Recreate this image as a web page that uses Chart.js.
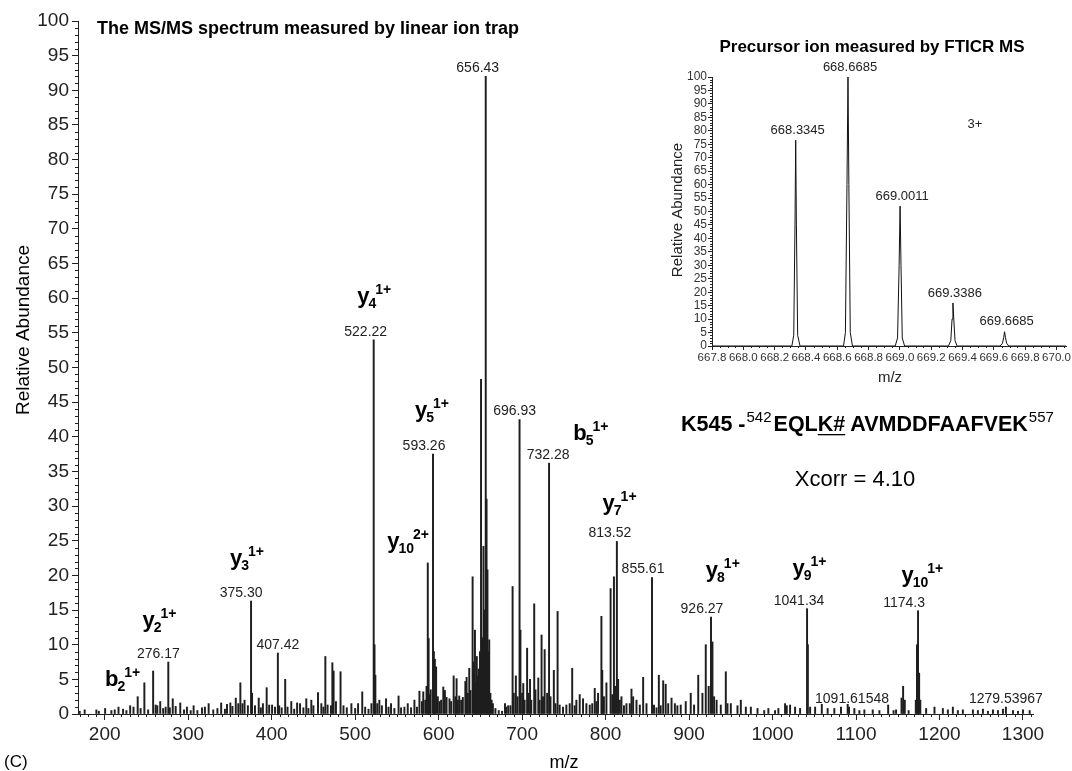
<!DOCTYPE html>
<html>
<head>
<meta charset="utf-8">
<script src="https://cdn.jsdelivr.net/npm/chart.js@4.4.1/dist/chart.umd.min.js"></script>
<style>
  html, body { margin: 0; padding: 0; background: #fff; }
  #wrap { position: relative; width: 1072px; height: 771px; }
  #main { position: absolute; left: 0; top: 0; }
  #inset { position: absolute; left: 660px; top: 30px; }
</style>
</head>
<body>
<div id="wrap">
  <canvas id="main" width="1072" height="771"></canvas>
  <canvas id="inset" width="412" height="362"></canvas>
</div>
<script>
/* ── MS/MS spectrum (linear ion trap) ── */

const FONT = "'Liberation Sans', Arial, sans-serif";

// stick spectrum: m/z and relative abundance
const msMz = [
  170, 176, 190, 193, 200.5, 208, 212, 216.5, 222, 226, 230.5, 234.5, 239.5, 243, 247.5, 252, 258, 261, 263, 266.5,
  270, 273, 276.17, 278, 281.5, 285, 290.5, 295, 298.5, 303, 306.5, 311, 316.5, 320, 324.5, 330, 335, 339.5, 344, 346.5,
  350.5, 353, 357, 360, 362.5, 365, 367.5, 371.5, 375.3, 376.5, 380, 384.5, 387, 389.5, 394, 397, 400.5, 404, 407.42, 409,
  412, 416.2, 419, 423.5, 427, 430.5, 434, 438, 441.5, 444, 447.5, 450, 455.5, 459.5, 462, 464.3, 467, 471, 472.7, 474.2,
  477, 482.5, 486, 490, 495.5, 500, 503.5, 508.5, 512, 516, 519.5, 522.22, 523.2, 524.2, 526.5, 529, 532, 537, 540, 543,
  547, 552, 555, 559, 563, 567, 571, 574, 577, 580, 581.6, 584, 585.5, 587, 588, 589.3, 590.5, 593.26, 594.3, 595.5,
  597, 599, 601, 603, 605.6, 607.5, 609.5, 613, 615, 618, 620, 621.5, 623, 624.7, 627, 629, 632, 633.5, 635, 636.7,
  638.2, 640.7, 642, 643.5, 644.7, 645.7, 647, 648, 649.5, 650.8, 652, 653.7, 655, 656.43, 657.4, 658.5, 659.6, 660.6, 662, 663.5,
  665, 668, 672, 676, 679.5, 681, 683.3, 686, 688.6, 690, 692.5, 694.5, 696.93, 698, 700, 701.4, 703, 706, 707.5, 709.5,
  711, 714.5, 716, 719.4, 721, 723.3, 725, 727, 730, 732.28, 734, 738, 740, 742.5, 745, 749, 753, 757, 760, 763,
  765, 769, 773, 777, 781, 784, 787, 789, 791, 795, 796, 798, 801, 806, 808, 810, 811.5, 813.52, 815, 817,
  819, 822, 825, 829, 831, 833, 837, 841, 845, 849, 855.61, 858, 861, 863.8, 866, 869, 872, 875, 879, 883,
  886, 890, 896, 902, 906, 911, 916, 920, 923.5, 926.27, 928, 930, 933, 938, 944, 946, 950, 958, 962, 968,
  974, 982, 990, 995, 1003, 1007, 1015, 1017, 1021, 1027, 1033, 1041.34, 1042.3, 1045, 1051, 1059, 1066, 1074, 1082, 1090,
  1091.61548, 1098, 1104, 1110, 1120, 1128, 1138.5, 1145, 1148, 1154.5, 1156.4, 1158.4, 1163, 1171.6, 1173, 1174.3, 1175.6, 1177, 1184, 1194,
  1204, 1210, 1216, 1222, 1228, 1240, 1246, 1252, 1258, 1264, 1270, 1276, 1279.53967, 1288, 1294, 1300, 1308
];
const msAbund = [
  0.4, 0.6, 0.6, 0.4, 0.8, 0.5, 0.6, 1.0, 0.7, 0.5, 1.2, 1.0, 2.5, 0.8, 4.5, 0.6, 6.2, 1.3, 1.2, 1.8,
  0.8, 1.0, 7.5, 0.9, 2.2, 1.1, 1.6, 0.6, 1.0, 0.5, 1.2, 0.5, 0.9, 1.0, 1.5, 0.6, 0.8, 1.6, 0.7, 1.4,
  1.6, 1.1, 2.3, 1.5, 4.5, 1.5, 2.0, 1.2, 16.3, 3.0, 1.2, 2.3, 0.9, 1.5, 3.8, 1.3, 1.3, 1.0, 8.8, 1.2,
  0.9, 5.0, 1.0, 1.8, 0.7, 1.6, 1.5, 0.9, 2.2, 0.8, 2.0, 1.2, 3.1, 1.5, 1.0, 8.3, 1.3, 1.2, 7.4, 6.2,
  1.8, 6.1, 1.2, 0.9, 1.5, 0.8, 1.5, 3.2, 1.0, 0.7, 1.5, 54.0, 10.0, 5.6, 1.5, 2.0, 1.2, 2.2, 1.0, 1.5,
  0.8, 2.6, 0.9, 1.0, 1.5, 0.9, 2.0, 1.0, 3.3, 1.8, 3.2, 2.0, 4.0, 21.8, 10.9, 2.8, 3.5, 37.5, 9.0, 7.9,
  6.8, 2.5, 1.8, 2.0, 3.9, 3.4, 2.4, 2.2, 1.8, 5.5, 2.5, 5.1, 2.0, 2.6, 2.0, 2.4, 4.7, 5.3, 3.0, 6.6,
  3.4, 19.8, 7.5, 12.1, 4.5, 8.3, 5.5, 6.5, 9.0, 48.3, 11.0, 24.2, 15.0, 92.0, 31.0, 20.8, 9.0, 10.7, 3.0, 2.0,
  1.5, 0.8, 0.5, 0.4, 1.5, 1.0, 1.2, 1.2, 18.4, 3.0, 5.5, 2.5, 42.5, 12.1, 3.0, 4.4, 2.0, 9.5, 3.0, 5.0,
  2.0, 15.9, 3.5, 5.2, 2.0, 11.4, 2.5, 9.3, 3.0, 36.2, 2.5, 6.3, 1.5, 14.8, 1.3, 1.0, 1.3, 1.5, 6.6, 1.2,
  2.0, 2.8, 2.2, 1.5, 1.3, 1.5, 3.7, 1.8, 3.0, 14.1, 6.3, 2.5, 4.5, 18.1, 2.8, 19.8, 4.0, 24.9, 5.0, 2.0,
  2.5, 1.2, 1.5, 1.5, 3.6, 2.5, 2.0, 1.3, 5.3, 1.5, 19.7, 1.3, 0.9, 5.6, 1.2, 4.8, 4.3, 1.5, 2.3, 1.5,
  1.2, 1.3, 1.8, 3.0, 1.3, 5.6, 3.0, 10.0, 4.0, 14.0, 10.4, 2.5, 2.0, 1.3, 6.1, 1.5, 1.5, 1.2, 2.0, 1.0,
  1.0, 0.8, 0.5, 0.8, 0.5, 0.8, 1.5, 1.2, 1.3, 1.0, 0.8, 15.2, 10.0, 1.0, 1.0, 1.4, 0.8, 0.8, 1.0, 1.4,
  1.0, 0.8, 0.5, 0.6, 0.6, 0.5, 1.3, 0.5, 0.6, 2.3, 4.0, 2.0, 0.5, 2.0, 10.0, 14.9, 5.9, 2.0, 0.8, 1.0,
  0.8, 0.6, 1.0, 0.5, 0.6, 0.6, 0.5, 0.7, 0.4, 0.6, 0.5, 0.7, 1.0, 0.5, 0.4, 0.6, 0.5
];

// axis ticks
const xTickVals = [200, 300, 400, 500, 600, 700, 800, 900, 1000, 1100, 1200, 1300];
const yTickVals = [0, 5, 10, 15, 20, 25, 30, 35, 40, 45, 50, 55, 60, 65, 70, 75, 80, 85, 90, 95, 100];

// m/z labels over peaks
const peakLabelMz = [276.17, 375.3, 407.42, 522.22, 593.26, 656.43, 696.93, 732.28, 813.52, 855.61, 926.27, 1041.34, 1091.61548, 1174.3, 1279.53967];
const peakLabelText = ['276.17', '375.30', '407.42', '522.22', '593.26', '656.43', '696.93', '732.28', '813.52', '855.61', '926.27', '1041.34', '1091.61548', '1174.3', '1279.53967'];
const peakLabelDx = [-10, -10, 0, -8, -9, -8, -5, -1, -7, -9, -9, -8, 3, -14, 0];

// fragment ion annotations (anchor = left edge / baseline of the ion letter)
const ionMain = ['b', 'y', 'y', 'y', 'y', 'y', 'b', 'y', 'y', 'y', 'y'];
const ionSub = ['2', '2', '3', '4', '5', '10', '5', '7', '8', '9', '10'];
const ionSup = ['1+', '1+', '1+', '1+', '1+', '2+', '1+', '1+', '1+', '1+', '1+'];
const ionMz = [200.4, 245.3, 350.1, 502.5, 571.6, 538.4, 761.2, 796.4, 920.1, 1023.9, 1154.5];
const ionAbund = [4.0, 12.5, 21.5, 59.3, 42.9, 23.9, 39.5, 29.4, 19.8, 20.1, 19.1];

/* ── precursor inset (FTICR) ── */
const insetMz = [
  667.80, 668.31, 668.322, 668.330, 668.3345, 668.339, 668.347, 668.362,
  668.64, 668.652, 668.662, 668.6685, 668.674, 668.683, 668.697,
  668.97, 668.985, 668.995, 669.0011, 669.007, 669.015, 669.03,
  669.31, 669.325, 669.333, 669.3386, 669.344, 669.352, 669.365,
  669.64, 669.655, 669.663, 669.6685, 669.674, 669.682, 669.695, 670.06
];
const insetAbund = [
  0, 0, 4, 45, 76.5, 45, 4, 0,
  0, 5, 60, 100, 60, 5, 0,
  0, 3, 30, 52, 30, 3, 0,
  0, 2, 10, 16, 10, 2, 0,
  0, 1, 3.2, 5.3, 3.2, 1, 0, 0
];
const insetXTicks = [667.8, 668.0, 668.2, 668.4, 668.6, 668.8, 669.0, 669.2, 669.4, 669.6, 669.8, 670.0];
const insetLabelMz = [668.3345, 668.6685, 669.0011, 669.3386, 669.6685];
const insetLabelText = ['668.3345', '668.6685', '669.0011', '669.3386', '669.6685'];

function abundAt(mzArr, abArr, mz) {
  const i = mzArr.indexOf(mz);
  return i >= 0 ? abArr[i] : 0;
}

function drawMinorTicks(ctx, xs, ys, area, xFrom, xTo, xStep, xMajor, yStep, yMajor, len) {
  ctx.beginPath();
  const nx = Math.round((xTo - xFrom) / xStep);
  for (let k = 0; k <= nx; k++) {
    const v = xFrom + k * xStep;
    if (Math.abs(v / xMajor - Math.round(v / xMajor)) < 1e-6) continue;
    const px = Math.round(xs.getPixelForValue(v)) + 0.5;
    ctx.moveTo(px, area.bottom); ctx.lineTo(px, area.bottom + len);
  }
  for (let v = yStep; v < 100; v += yStep) {
    if (v % yMajor === 0) continue;
    const py = Math.round(ys.getPixelForValue(v)) + 0.5;
    ctx.moveTo(area.left - len, py); ctx.lineTo(area.left, py);
  }
  ctx.stroke();
}

const mainDecor = {
  id: 'mainDecor',
  afterDraw(chart) {
    const { ctx, chartArea } = chart;
    const xs = chart.scales.x, ys = chart.scales.y;
    ctx.save();
    ctx.strokeStyle = '#222';
    ctx.lineWidth = 1;
    drawMinorTicks(ctx, xs, ys, chartArea, 170, 1310, 10, 100, 1, 5, 3);

    // peak m/z labels
    ctx.fillStyle = '#222';
    ctx.font = `14px ${FONT}`;
    ctx.textAlign = 'center';
    ctx.textBaseline = 'middle';
    peakLabelMz.forEach((mz, i) => {
      const top = ys.getPixelForValue(abundAt(msMz, msAbund, mz));
      ctx.fillText(peakLabelText[i], xs.getPixelForValue(mz) + peakLabelDx[i], top - 8);
    });

    // fragment ion labels
    ctx.fillStyle = '#000';
    ctx.textAlign = 'left';
    ctx.textBaseline = 'alphabetic';
    ionMain.forEach((m, i) => {
      let px = xs.getPixelForValue(ionMz[i]);
      const py = ys.getPixelForValue(ionAbund[i]);
      ctx.font = `bold 22px ${FONT}`;
      ctx.fillText(m, px, py);
      px += ctx.measureText(m).width - 1;
      ctx.font = `bold 14px ${FONT}`;
      ctx.fillText(ionSub[i], px, py + 5);
      px += ctx.measureText(ionSub[i]).width - 1;
      ctx.fillText(ionSup[i], px, py - 9);
    });

    // titles and free text
    ctx.font = `bold 18px ${FONT}`;
    ctx.fillText('The MS/MS spectrum measured by linear ion trap', 97, 34);

    ctx.font = `17px ${FONT}`;
    ctx.fillText('(C)', 4, 767);

    ctx.font = `18px ${FONT}`;
    ctx.textAlign = 'center';
    ctx.fillText('m/z', 564, 768);

    ctx.save();
    ctx.translate(24, 330);
    ctx.rotate(-Math.PI / 2);
    ctx.font = `19px ${FONT}`;
    ctx.textBaseline = 'middle';
    ctx.fillText('Relative Abundance', 0, 0);
    ctx.restore();

    // peptide sequence
    ctx.textAlign = 'left';
    let sx = 681;
    const sy = 431;
    ctx.font = `bold 21.5px ${FONT}`;
    ctx.fillText('K545 -', sx, sy);
    sx += ctx.measureText('K545 -').width + 1;
    ctx.font = `15px ${FONT}`;
    ctx.fillText('542', sx, sy - 9);
    sx += ctx.measureText('542').width + 2;
    ctx.font = `bold 21.5px ${FONT}`;
    ctx.fillText('EQL', sx, sy);
    sx += ctx.measureText('EQL').width;
    const kw = ctx.measureText('K#').width;
    ctx.fillText('K#', sx, sy);
    ctx.fillRect(sx, sy + 3, kw, 1.3);
    sx += kw + ctx.measureText(' ').width - 1;
    ctx.fillText('AVMDDFAAFVEK', sx, sy);
    sx += ctx.measureText('AVMDDFAAFVEK').width + 1;
    ctx.font = `15px ${FONT}`;
    ctx.fillText('557', sx, sy - 9);

    ctx.font = `22px ${FONT}`;
    ctx.textAlign = 'center';
    ctx.fillText('Xcorr = 4.10', 855, 486);
    ctx.restore();
  }
};

new Chart(document.getElementById('main'), {
  type: 'bar',
  data: {
    datasets: [{
      data: msMz.map((mz, i) => ({ x: mz, y: msAbund[i] })),
      backgroundColor: '#1e1e1e',
      barThickness: 1.3,
      grouped: false,
    }],
  },
  options: {
    responsive: false,
    animation: false,
    layout: { padding: { top: 21, right: 39, left: 0, bottom: 0 } },
    plugins: { legend: { display: false }, tooltip: { enabled: false } },
    scales: {
      x: {
        type: 'linear', min: 168, max: 1312, offset: false,
        afterBuildTicks: s => { s.ticks = xTickVals.map(v => ({ value: v })); },
        afterFit: s => { s.height = 57; },
        grid: { drawOnChartArea: false, tickLength: 6, tickColor: '#222', offset: false },
        border: { color: '#222', width: 1 },
        ticks: { font: { family: FONT, size: 19 }, color: '#222', padding: 3, maxRotation: 0, autoSkip: false,
                 callback: v => String(v) },
      },
      y: {
        min: 0, max: 100,
        afterBuildTicks: s => { s.ticks = yTickVals.map(v => ({ value: v })); },
        afterFit: s => { s.width = 78; },
        grid: { drawOnChartArea: false, tickLength: 6, tickColor: '#222' },
        border: { color: '#222', width: 1 },
        ticks: { font: { family: FONT, size: 19 }, color: '#222', padding: 3, autoSkip: false },
      },
    },
  },
  plugins: [mainDecor],
});

const insetDecor = {
  id: 'insetDecor',
  afterDraw(chart) {
    const { ctx, chartArea } = chart;
    const xs = chart.scales.x, ys = chart.scales.y;
    ctx.save();
    ctx.strokeStyle = '#222';
    ctx.lineWidth = 1;
    drawMinorTicks(ctx, xs, ys, chartArea, 667.8, 670.05, 0.05, 0.2, 1, 5, 2);

    ctx.fillStyle = '#222';
    ctx.font = `13px ${FONT}`;
    ctx.textAlign = 'center';
    ctx.textBaseline = 'middle';
    insetLabelMz.forEach((mz, i) => {
      const top = ys.getPixelForValue(abundAt(insetMz, insetAbund, mz));
      ctx.fillText(insetLabelText[i], xs.getPixelForValue(mz) + 2, top - 10);
    });
    ctx.fillText('3+', 315, 94);

    ctx.fillStyle = '#000';
    ctx.font = `bold 17px ${FONT}`;
    ctx.fillText('Precursor ion measured by FTICR MS', 212, 17);

    ctx.fillStyle = '#222';
    ctx.font = `15px ${FONT}`;
    ctx.fillText('m/z', 230, 348);

    ctx.translate(18, 180);
    ctx.rotate(-Math.PI / 2);
    ctx.fillText('Relative Abundance', 0, 0);
    ctx.restore();
  }
};

new Chart(document.getElementById('inset'), {
  type: 'line',
  data: {
    datasets: [{
      data: insetMz.map((mz, i) => ({ x: mz, y: insetAbund[i] })),
      borderColor: '#111',
      borderWidth: 1,
      pointRadius: 0,
      tension: 0,
      fill: false,
    }],
  },
  options: {
    responsive: false,
    animation: false,
    layout: { padding: { top: 47, right: 4, left: 0, bottom: 0 } },
    plugins: { legend: { display: false }, tooltip: { enabled: false } },
    scales: {
      x: {
        type: 'linear', min: 667.8, max: 670.064,
        afterBuildTicks: s => { s.ticks = insetXTicks.map(v => ({ value: v })); },
        afterFit: s => { s.height = 46; },
        grid: { drawOnChartArea: false, tickLength: 4, tickColor: '#222' },
        border: { color: '#222', width: 1 },
        ticks: { font: { family: FONT, size: 11.5 }, color: '#333', padding: 1, maxRotation: 0, autoSkip: false,
                 callback: v => Number(v).toFixed(1) },
      },
      y: {
        min: 0, max: 100,
        afterBuildTicks: s => { s.ticks = yTickVals.map(v => ({ value: v })); },
        afterFit: s => { s.width = 52; },
        grid: { drawOnChartArea: false, tickLength: 4, tickColor: '#222' },
        border: { color: '#222', width: 1 },
        ticks: { font: { family: FONT, size: 12 }, color: '#333', padding: 1, autoSkip: false },
      },
    },
  },
  plugins: [insetDecor],
});
</script>
</body>
</html>
